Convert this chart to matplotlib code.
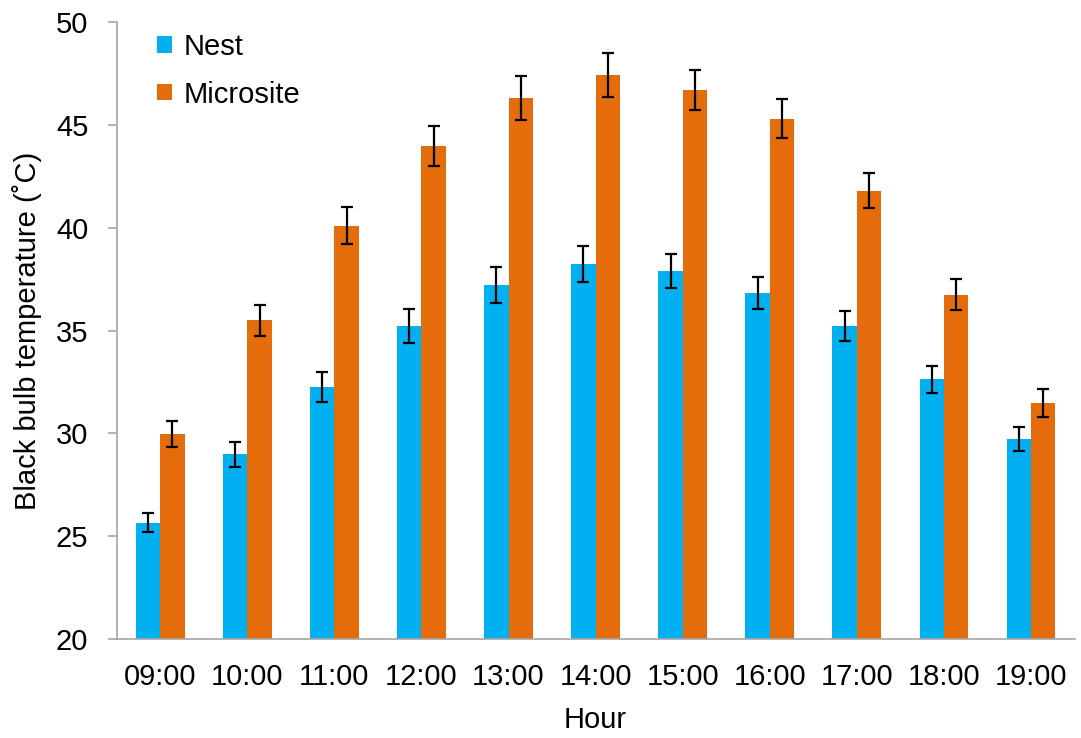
import numpy as np
import matplotlib
matplotlib.use("Agg")
import matplotlib.pyplot as plt

plt.rcParams['font.family'] = ['Liberation Sans', 'DejaVu Sans']

hours = ["09:00", "10:00", "11:00", "12:00", "13:00", "14:00",
         "15:00", "16:00", "17:00", "18:00", "19:00"]
nest = [25.67, 28.98, 32.24, 35.22, 37.22, 38.25, 37.9, 36.85, 35.22, 32.64, 29.74]
nest_err = [0.48, 0.6, 0.73, 0.83, 0.87, 0.87, 0.83, 0.78, 0.73, 0.65, 0.57]
micro = [29.97, 35.5, 40.1, 43.97, 46.3, 47.43, 46.7, 45.31, 41.81, 36.75, 31.46]
micro_err = [0.65, 0.75, 0.9, 0.98, 1.06, 1.06, 0.98, 0.96, 0.86, 0.77, 0.68]

x = np.arange(len(hours))
w = 0.28

fig = plt.figure(figsize=(10.81, 7.38), dpi=100)
ax = fig.add_axes([0.108, 0.134, 0.886, 0.836])

err_kw = dict(ecolor='black', elinewidth=1.6, capsize=4, capthick=1.6)
ax.bar(x - w/2, nest, w, color='#00B0F0', label='Nest',
       yerr=nest_err, error_kw=err_kw)
ax.bar(x + w/2, micro, w, color='#E46C0A', label='Microsite',
       yerr=micro_err, error_kw=err_kw)

ax.set_ylim(20, 50)
ax.set_yticks(np.arange(20, 51, 5))
ax.set_xlim(-0.5, len(hours) - 0.5)
ax.set_xticks(x)
ax.set_xticklabels(hours)
ax.tick_params(axis='both', labelsize=21)
ax.tick_params(axis='x', length=0, pad=17)
ax.tick_params(axis='y', length=6.5, width=1.2, color='#A6A6A6', pad=14)
for s in ['top', 'right']:
    ax.spines[s].set_visible(False)
for s in ['left', 'bottom']:
    ax.spines[s].set_color('#A6A6A6')
    ax.spines[s].set_linewidth(1.2)

ax.set_xlabel("Hour", fontsize=21, labelpad=11)
ax.set_ylabel("Black bulb temperature (\u02daC)", fontsize=21, labelpad=10)

ax.legend(loc='upper left', bbox_to_anchor=(0.015, 1.025), frameon=False,
          fontsize=21, handlelength=0.5, handleheight=0.5,
          handletextpad=0.4, labelspacing=0.67)

fig.savefig("out.png", dpi=100)
